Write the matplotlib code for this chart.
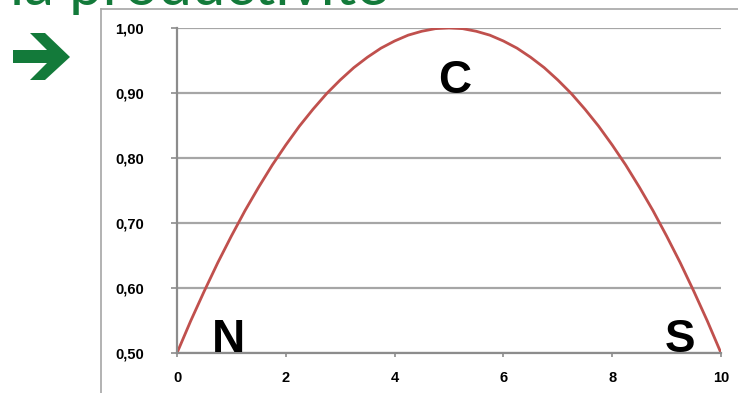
import matplotlib.pyplot as plt
from matplotlib.lines import Line2D
from matplotlib.patches import Polygon

# valeurs
x_vals = [0, 0.25, 0.5, 0.75, 1, 1.25, 1.5, 1.75, 2, 2.25, 2.5, 2.75, 3, 3.25, 3.5, 3.75, 4,
          4.25, 4.5, 4.75, 5, 5.25, 5.5, 5.75, 6, 6.25, 6.5, 6.75, 7, 7.25, 7.5, 7.75, 8,
          8.25, 8.5, 8.75, 9, 9.25, 9.5, 9.75, 10]
y_vals = [0.500, 0.549, 0.595, 0.639, 0.680, 0.719, 0.755, 0.789, 0.820, 0.849, 0.875,
          0.899, 0.920, 0.939, 0.955, 0.969, 0.980, 0.989, 0.995, 0.999, 1.000,
          0.999, 0.995, 0.989, 0.980, 0.969, 0.955, 0.939, 0.920, 0.899, 0.875,
          0.849, 0.820, 0.789, 0.755, 0.719, 0.680, 0.639, 0.595, 0.549, 0.500]
x_ticks = [0, 2, 4, 6, 8, 10]
y_ticks = [0.50, 0.60, 0.70, 0.80, 0.90, 1.00]
lettres = [("N", 0.94, 0.502), ("C", 5.11, 0.90), ("S", 9.25, 0.502)]

vert = "#137a3a"
gris = "#a6a6a6"

W, H = 738, 393
fig = plt.figure(figsize=(W/100, H/100), dpi=100)
ax = fig.add_axes([177/W, 40/H, 544/W, 325/H])

ax.plot(x_vals, y_vals, color="#c0504d", linewidth=2.0, solid_capstyle="round",
        solid_joinstyle="round")

ax.set_xlim(0, 10)
ax.set_ylim(0.5, 1.0)
ax.set_xticks(x_ticks)
ax.set_yticks(y_ticks)
ax.set_xticklabels([str(v) for v in x_ticks], fontweight="bold", fontsize=10.5,
                   family="Liberation Sans")
ax.set_yticklabels([("%.2f" % v).replace(".", ",") for v in y_ticks],
                   fontweight="bold", fontsize=10.5, family="Liberation Sans")
ax.tick_params(axis="y", direction="out", length=4, width=1.2, color="#8c8c8c", pad=20)
ax.tick_params(axis="x", direction="out", length=3, width=1.2, color="#8c8c8c", pad=10)

ax.grid(axis="y", color=gris, linewidth=1.6)
ax.set_axisbelow(True)
for s in ["top", "right"]:
    ax.spines[s].set_visible(False)
for s in ["left", "bottom"]:
    ax.spines[s].set_color("#8c8c8c")
    ax.spines[s].set_linewidth(1.6)

for lettre, lx, ly in lettres:
    ax.text(lx, ly, lettre, fontsize=33, fontweight="bold", family="Liberation Sans",
            ha="center", va="baseline")

# cadre du graphique
fig.add_artist(Line2D([101/W, 101/W], [0, 1 - 9/H], color=gris, linewidth=1.2))
fig.add_artist(Line2D([101/W, 1], [1 - 9/H, 1 - 9/H], color=gris, linewidth=1.2))

# titre coupé en haut
fig.text(10/W, 1 - 5/H, "la productivité", color=vert, fontsize=43,
         family="Lato", ha="left", va="baseline")

# flèche verte
fleche = [(13, 50), (47, 50), (30, 33), (45, 33), (70, 57), (45, 80), (30, 80),
          (47, 63), (13, 63)]
fig.add_artist(Polygon([(px/W, 1 - py/H) for px, py in fleche], closed=True,
                       transform=fig.transFigure, facecolor=vert, edgecolor="none"))

fig.savefig("out.png", dpi=100)
